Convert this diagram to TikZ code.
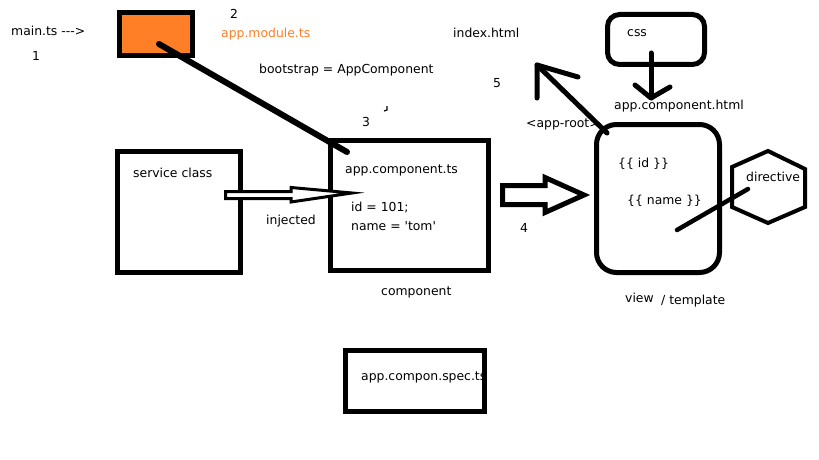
\documentclass[tikz,border=0pt]{standalone}
\usepackage{fontspec}
\setmainfont{DejaVu Sans}
\definecolor{paintorange}{HTML}{FF7F27}
\begin{document}
\begin{tikzpicture}[x=1pt,y=-1pt,
  txt/.style={anchor=base west,inner sep=0pt,font=\fontsize{12.4}{14}\selectfont},
  box/.style={draw,line width=5pt,inner sep=0pt,minimum width=#1},
  brush/.style={line width=5pt,line cap=round,line join=round},
  hollow/.style={draw,fill=white,line join=miter}]
\useasboundingbox[fill=white] (0,0) rectangle (819,460);

% boxes
\node[box=73pt,minimum height=43pt,fill=paintorange] (module) at (156,34) {};
\node[box=123pt,minimum height=121pt] (service) at (179,212) {};
\node[box=158pt,minimum height=130pt] (comp) at (409.5,205.5) {};
\node[box=123pt,minimum height=148pt,rounded corners=20pt] (view) at (658,198.5) {};
\node[box=97pt,minimum height=50pt,rounded corners=12pt] (css) at (656,39.5) {};
\node[box=139pt,minimum height=61pt] (spec) at (415,381) {};

% directive hexagon
\draw[line width=4pt,line join=miter] (768,151) -- (805,169) -- (805,207) -- (768,223) -- (732,207) -- (732,167) -- cycle;
\node[txt,fill=white,inner sep=1pt] (directive) at (745,181) {directive};

% texts
\node[txt] (maints) at (11,36) {main.ts -{}-{}->};
\node[txt] (n1) at (32,60) {1};
\node[txt] (n2) at (230,19) {2};
\node[txt,text=paintorange] (modtxt) at (221,38) {app.module.ts};
\node[txt] (boot) at (259,74) {bootstrap = AppComponent};
\node[txt] (n3) at (362,126) {3};
\node[txt] (index) at (453,38) {index.html};
\node[txt] (n5) at (493,87) {5};
\node[txt] (csstxt) at (627,37) {css};
\node[txt] (htmltxt) at (614,110) {app.component.html};
\node[txt] (approot) at (526,127) {<app-root>};
\node[txt] (servtxt) at (133,177) {service class};
\node[txt] (comptxt) at (345,173) {app.component.ts};
\node[txt] (idtxt) at (351,211) {id = 101;};
\node[txt] (nametxt) at (351,230) {name = \textquotesingle tom\textquotesingle};
\node[txt] (inj) at (266,224) {injected};
\node[txt] (complbl) at (381,295) {component};
\node[txt] (n4) at (520,232) {4};
\node[txt] (vid) at (618,167) {\{\{ id \}\}};
\node[txt] (vname) at (627,204) {\{\{ name \}\}};
\node[txt] (viewlbl) at (625,302) {view};
\node[txt] (templbl) at (661,304) {/ template};
\node[txt] (spectxt) at (361,380) {app.compon.spec.ts};

% stray mark
\draw[line width=1.2pt] (387,106) -- (387,110) -- (384,111);

% connectors
\coordinate (modA) at (159,44);
\coordinate (compA) at (347,152);
\draw[line width=6pt,line cap=round] (modA) -- (compA);

\draw[hollow,line width=3pt] (225.5,191.5) -- (291,191.5) -- (291,187.5) -- (352,193) -- (291,202) -- (291,198.5) -- (225.5,198.5) -- cycle;

\draw[hollow,line width=5pt] (502.5,185.5) -- (545,185.5) -- (545,177.5) -- (584,195) -- (545,212.5) -- (545,204.5) -- (502.5,204.5) -- cycle;

\coordinate (viewA) at (607,133);
\coordinate (indexA) at (537,65);
\draw[brush] (viewA) -- (indexA);
\draw[brush] (537,98) -- (indexA) -- (578,77);

\coordinate (cssA) at (651,53);
\coordinate (htmlA) at (651,98);
\draw[brush] (cssA) -- (htmlA);
\draw[brush] (635,85) -- (htmlA) -- (670,87);

\coordinate (viewB) at (677,230);
\coordinate (dirA) at (748,189);
\draw[brush,line width=4.5pt] (viewB) -- (dirA);
\end{tikzpicture}
\end{document}
